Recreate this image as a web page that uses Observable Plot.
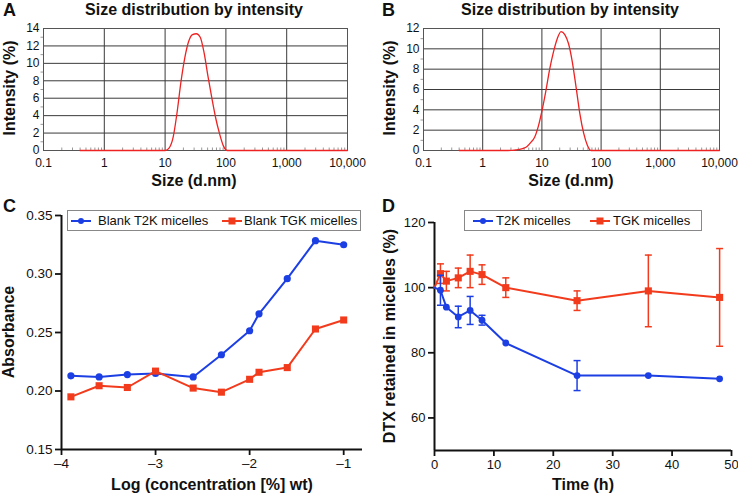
<!DOCTYPE html>
<html><head><meta charset="utf-8">
<script src="https://cdn.jsdelivr.net/npm/d3@7"></script>
<script src="https://cdn.jsdelivr.net/npm/@observablehq/plot@0.6"></script>
<style>
body{margin:0;background:#fff;font-family:"Liberation Sans",Arial,sans-serif;}
#root{position:relative;width:738px;height:494px;overflow:hidden;background:#fff;}
.abs{position:absolute;white-space:nowrap;color:#111;line-height:1;}
.lbl{font-weight:bold;font-size:16px;transform:translate(-50%,-50%);}
.rot{transform:translate(-50%,-50%) rotate(-90deg);}
.letter{font-weight:bold;font-size:18px;}
.legend{position:absolute;border:1px solid #888;box-sizing:border-box;font-size:13px;background:#fff;color:#111;}
.legend .it{position:absolute;top:2px;line-height:15px;white-space:nowrap;}
.legend svg{position:absolute;}
svg.ax [aria-label$="axis tick"] path{stroke-width:1.8;}
</style></head><body><div id="root"></div>
<script>
// ---------- data ----------
const sizeA=[0.4,10.1,11.7,13.54,15.69,18.17,21.04,24.36,28.21,32.67,37.84,43.82,50.75,58.77,68.06,78.82,91.28,105.7,10000];
const intensityA=[0,0,0.3,1.5,4.3,7.8,10.6,12.5,13.3,13.4,13.0,11.2,8.5,6.0,3.7,1.9,0.5,0,0];
const sizeB=[0.4,2.696,3.122,3.615,4.187,4.849,5.615,6.503,7.531,8.721,10.1,11.7,13.54,15.69,18.17,21.04,24.36,28.21,32.67,37.84,43.82,50.75,58.77,68.06,10000];
const intensityB=[0,0,0.02,0.05,0.1,0.2,0.4,0.8,1.3,2.4,4.0,5.9,8.0,9.7,11.0,11.7,11.4,10.5,8.7,6.2,3.6,1.7,0.5,0,0];
const sizeTicks=[0.1,1,10,100,1000,10000];
const intensityTicksA=[0,2,4,6,8,10,12,14];
const intensityTicksB=[0,2,4,6,8,10,12];

const logConc=[-3.9,-3.6,-3.3,-3,-2.6,-2.3,-2,-1.9,-1.6,-1.3,-1];
const absT2K=[0.213,0.212,0.214,0.215,0.212,0.231,0.2515,0.266,0.296,0.3285,0.325];
const absTGK=[0.195,0.2045,0.203,0.217,0.2025,0.199,0.210,0.216,0.220,0.253,0.2607];
const concTicks=[-4,-3,-2,-1];
const absTicks=[0.15,0.20,0.25,0.30,0.35];

const timeH=[0,1,2,4,6,8,12,24,36,48];
const retT2K=[100,99.2,94,91,93,90,83,73,73,72];
const errT2K=[0,4.6,0,3.3,4.3,1.5,0,4.6,0,0];
const retTGK=[100,104.3,102,103,105,104,100,96,99,97];
const errTGK=[0,3,3,3,5,3,3,3,11,15];
const timeTicks=[0,10,20,30,40,50];
const retTicks=[60,80,100,120];

const seriesC=["Blank T2K micelles","Blank TGK micelles"];
const seriesD=["T2K micelles","TGK micelles"];

// ---------- styles ----------
const blue="#1c3fe4", red="#f23b1d";
const FONT='"Liberation Sans", Arial, sans-serif';
const root=document.getElementById("root");
const capSym={draw(ctx,size){const r=Math.sqrt(size/Math.PI);ctx.moveTo(-r,0);ctx.lineTo(r,0);}};
const upSym={draw(ctx,size){const r=Math.sqrt(size/Math.PI);ctx.moveTo(0,0);ctx.lineTo(0,-r);}};
const leftSym={draw(ctx,size){const r=Math.sqrt(size/Math.PI);ctx.moveTo(0,0);ctx.lineTo(-r,0);}};

function place(node,left,top){node.style.position="absolute";node.style.left=left+"px";node.style.top=top+"px";root.appendChild(node);return node;}
function txt(str,x,y,cls){const d=document.createElement("div");d.className="abs "+cls;d.textContent=str;d.style.left=x+"px";d.style.top=y+"px";root.appendChild(d);return d;}

// ---------- size distribution panels ----------
function sizePanel(sizes,vals,yTicks,yMax,ml,mr){
  const pts=sizes.map((s,i)=>({s,v:vals[i]}));
  const minorX=d3.scaleLog().domain([0.1,10000]).ticks().filter(t=>!sizeTicks.includes(t));
  const minorY=d3.range(1,yMax,2);
  return Plot.plot({
    width:369,height:195,marginLeft:ml,marginRight:mr,marginTop:28,marginBottom:45,
    style:{fontFamily:FONT,fontSize:"12px",color:"#111",background:"transparent",overflow:"visible"},
    x:{type:"log",domain:[0.1,10000],ticks:sizeTicks,tickFormat:d3.format(","),tickSize:0,tickPadding:8,label:null},
    y:{domain:[0,yMax],ticks:yTicks,tickSize:0,tickPadding:4,label:null},
    marks:[
      Plot.ruleX(sizeTicks,{stroke:"#3a3a3a",strokeWidth:1}),
      Plot.ruleY(yTicks,{stroke:"#3a3a3a",strokeWidth:1}),
      Plot.dot(minorX,{x:d=>d,y:()=>0,symbol:upSym,r:3,stroke:"#999",strokeWidth:1}),
      Plot.dot(minorY,{x:()=>0.1,y:d=>d,symbol:leftSym,r:3,stroke:"#999",strokeWidth:1}),
      Plot.frame({stroke:"#555"}),
      Plot.line(pts,{x:"s",y:"v",stroke:"#ee2222",strokeWidth:1.3,curve:"monotone-x"})
    ]
  });
}
place(sizePanel(sizeA,intensityA,intensityTicksA,14,43,22),0,0);
place(sizePanel(sizeB,intensityB,intensityTicksB,12,54,19),369,0);

txt("A",3,1,"letter");
txt("B",382,1,"letter");
txt("Size distribution by intensity",194,10,"lbl");
txt("Size distribution by intensity",570,10,"lbl");
txt("Size (d.nm)",194,181,"lbl");
txt("Size (d.nm)",571,181,"lbl");
txt("Intensity (%)",10,88,"lbl rot");
txt("Intensity (%)",390,88,"lbl rot");

// ---------- panel C ----------
const dataC=logConc.flatMap((x,i)=>[{x,y:absT2K[i],s:seriesC[0]},{x,y:absTGK[i],s:seriesC[1]}]);
const plotC=Plot.plot({
  width:369,height:299,marginLeft:61,marginRight:7,marginTop:20,marginBottom:45,
  style:{fontFamily:FONT,fontSize:"13.5px",color:"#111",background:"transparent",overflow:"visible"},
  x:{domain:[-4,-0.8],ticks:concTicks,tickFormat:d=>"\u2013"+Math.abs(d),tickSize:6,tickPadding:3,label:null},
  y:{domain:[0.15,0.35],ticks:absTicks,tickFormat:d=>d.toFixed(2),tickSize:6,tickPadding:3,label:null},
  marks:[
    Plot.ruleX([-4],{stroke:"#111",strokeWidth:2}),
    Plot.ruleY([0.15],{stroke:"#111",strokeWidth:2}),
    Plot.line(dataC.filter(d=>d.s===seriesC[0]),{x:"x",y:"y",stroke:blue,strokeWidth:2}),
    Plot.dot(dataC.filter(d=>d.s===seriesC[0]),{x:"x",y:"y",fill:blue,r:3.6,symbol:"circle"}),
    Plot.line(dataC.filter(d=>d.s===seriesC[1]),{x:"x",y:"y",stroke:red,strokeWidth:2}),
    Plot.dot(dataC.filter(d=>d.s===seriesC[1]),{x:"x",y:"y",fill:red,r:4,symbol:"square"})
  ]
});
plotC.classList.add("ax");
place(plotC,0,195);
txt("C",3,197,"letter");
txt("Absorbance",9,332,"lbl rot");
txt("Log (concentration [%] wt)",212,485,"lbl");

// ---------- panel D ----------
const dataD=timeH.flatMap((t,i)=>[{t,y:retT2K[i],e:errT2K[i],s:seriesD[0]},{t,y:retTGK[i],e:errTGK[i],s:seriesD[1]}]);
const bS=dataD.filter(d=>d.s===seriesD[0]), rS=dataD.filter(d=>d.s===seriesD[1]);
const errMarks=(arr,col)=>{
  const a=arr.filter(d=>d.e>0);
  return [
    Plot.ruleX(a,{x:"t",y1:d=>d.y-d.e,y2:d=>d.y+d.e,stroke:col,strokeWidth:1.5}),
    Plot.dot(a,{x:"t",y:d=>d.y+d.e,symbol:capSym,r:3.5,stroke:col,strokeWidth:1.5}),
    Plot.dot(a,{x:"t",y:d=>d.y-d.e,symbol:capSym,r:3.5,stroke:col,strokeWidth:1.5})
  ];
};
const plotD=Plot.plot({
  width:369,height:299,marginLeft:65,marginRight:7,marginTop:27,marginBottom:44,
  style:{fontFamily:FONT,fontSize:"13px",color:"#111",background:"transparent",overflow:"visible"},
  x:{domain:[0,50],ticks:timeTicks,tickSize:6,tickPadding:3,label:null},
  y:{domain:[50,120],ticks:retTicks,tickSize:6,tickPadding:3,label:null},
  marks:[
    Plot.ruleX([0],{stroke:"#111",strokeWidth:2}),
    Plot.ruleY([50],{stroke:"#111",strokeWidth:2}),
    ...errMarks(rS,red),
    Plot.line(rS,{x:"t",y:"y",stroke:red,strokeWidth:2}),
    Plot.dot(rS.filter(d=>d.t>0),{x:"t",y:"y",fill:red,r:4,symbol:"square"}),
    ...errMarks(bS,blue),
    Plot.line(bS,{x:"t",y:"y",stroke:blue,strokeWidth:2}),
    Plot.dot(bS.filter(d=>d.t>0),{x:"t",y:"y",fill:blue,r:3.4,symbol:"circle"})
  ]
});
plotD.classList.add("ax");
place(plotD,369,195);
txt("D",382,197,"letter");
txt("DTX retained in micelles (%)",390,336,"lbl rot");
txt("Time (h)",583,485,"lbl");

// ---------- legends ----------
function legend(x,y,w,items){
  const box=document.createElement("div");box.className="legend";
  box.style.left=x+"px";box.style.top=y+"px";box.style.width=w+"px";box.style.height="21px";
  for(const it of items){
    const s=document.createElementNS("http://www.w3.org/2000/svg","svg");
    s.setAttribute("width",22);s.setAttribute("height",12);
    s.style.left=it.mx+"px";s.style.top="4px";
    s.innerHTML=`<line x1="1" y1="6" x2="21" y2="6" stroke="${it.color}" stroke-width="2"/>`+
      (it.shape==="circle"?`<circle cx="11" cy="6" r="3" fill="${it.color}"/>`:`<rect x="7.5" y="2.5" width="7" height="7" fill="${it.color}"/>`);
    box.appendChild(s);
    const t=document.createElement("div");t.className="it";t.textContent=it.label;t.style.left=it.tx+"px";
    box.appendChild(t);
  }
  root.appendChild(box);
}
legend(67,210,294,[
  {label:seriesC[0],color:blue,shape:"circle",mx:2,tx:30},
  {label:seriesC[1],color:red,shape:"square",mx:153,tx:176}
]);
legend(464,210,238,[
  {label:seriesD[0],color:blue,shape:"circle",mx:7,tx:31},
  {label:seriesD[1],color:red,shape:"square",mx:124,tx:148}
]);
</script></body></html>
